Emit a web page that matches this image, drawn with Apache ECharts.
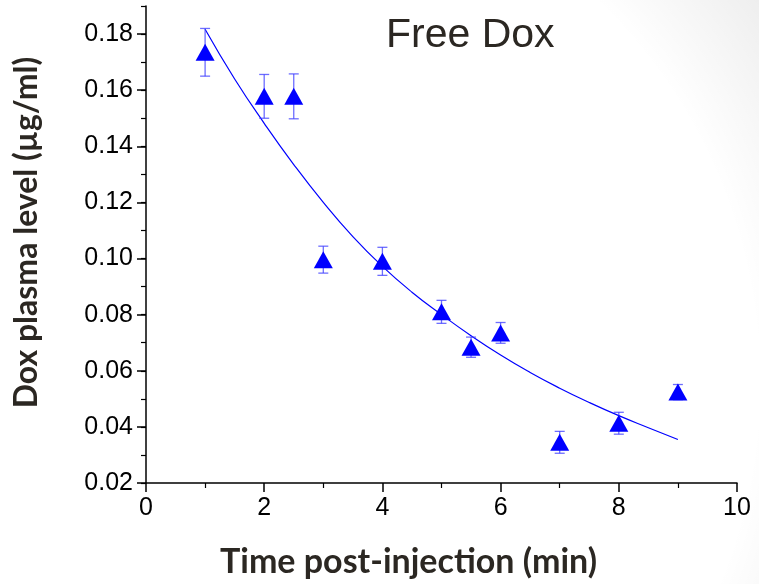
<!DOCTYPE html>
<html>
<head>
<meta charset="utf-8">
<script src="https://cdn.jsdelivr.net/npm/echarts@6/dist/echarts.min.js"></script>
<style>
  html, body { margin: 0; padding: 0; background: #fff; }
  #main { width: 759px; height: 584px; }
</style>
</head>
<body>
<div id="main"></div>
<script>
// measured points (time in min, Dox level in ug/ml, error bar half-length)
var timeMin = [1, 2, 2.5, 3, 4, 5, 5.5, 6, 7, 8, 9];
var doxLevel = [0.1735, 0.1578, 0.1578, 0.0996, 0.0990, 0.0810, 0.0684, 0.0735, 0.0345, 0.0413, 0.0524];
var doxErr = [0.0085, 0.0078, 0.0080, 0.0048, 0.0050, 0.0041, 0.0036, 0.0037, 0.0039, 0.0039, 0.0027];

// fitted decay curve
var fitX = [1, 1.5, 2, 2.5, 3, 3.5, 4, 4.5, 5, 5.5, 6, 6.5, 7, 7.5, 8, 8.5, 9];
var fitY = [0.1817, 0.1640, 0.1482, 0.1335, 0.1200, 0.1078, 0.0972, 0.0880, 0.0800, 0.0725, 0.0656, 0.0594, 0.0538, 0.0487, 0.0440, 0.0397, 0.0355];

var yMajor = [0.02, 0.04, 0.06, 0.08, 0.10, 0.12, 0.14, 0.16, 0.18];

var chartDom = document.getElementById('main');
var myChart = echarts.init(chartDom);
var option;

var pointData = timeMin.map(function (t, i) { return [t, doxLevel[i]]; });
var errData = timeMin.map(function (t, i) { return [t, doxLevel[i] - doxErr[i], doxLevel[i] + doxErr[i]]; });
var fitData = fitX.map(function (t, i) { return [t, fitY[i]]; });

var tickFont = { color: '#000', fontSize: 25, fontFamily: 'Liberation Sans, Arial, sans-serif' };
var nameFont = { color: '#2b2722', fontWeight: 'bold', fontFamily: 'Lato, sans-serif' };

option = {
    animation: false,
    backgroundColor: '#fff',
    graphic: [
        {
            type: 'rect',
            z: -10,
            silent: true,
            shape: { x: 0, y: 0, width: 759, height: 584 },
            style: {
                fill: {
                    type: 'radial', x: 229, y: 382, r: 660, global: true,
                    colorStops: [
                        { offset: 0, color: 'rgba(0,0,0,0)' },
                        { offset: 0.8, color: 'rgba(0,0,0,0)' },
                        { offset: 1, color: 'rgba(0,0,0,0.07)' }
                    ]
                }
            }
        }
    ],
    title: {
        text: 'Free Dox',
        left: 386,
        top: 15,
        padding: 0,
        textStyle: { color: '#2b2722', fontSize: 41, fontWeight: 'normal', fontFamily: 'Liberation Sans, Arial, sans-serif' }
    },
    grid: { left: 146, right: 22, top: 6, bottom: 100, containLabel: false },
    xAxis: {
        type: 'value',
        min: 0,
        max: 10,
        interval: 2,
        name: 'Time post-injection (min)',
        nameLocation: 'middle',
        nameGap: 62,
        nameTextStyle: Object.assign({ fontSize: 34, padding: [0, 66, 0, 0] }, nameFont),
        axisLine: { onZero: false, lineStyle: { color: '#000', width: 1.5 } },
        axisTick: { length: 9, lineStyle: { color: '#000', width: 1.5 } },
        minorTick: { show: true, splitNumber: 2, length: 5, lineStyle: { color: '#000', width: 1.2 } },
        axisLabel: Object.assign({ margin: 13 }, tickFont),
        splitLine: { show: false }
    },
    yAxis: [
        {
            type: 'value',
            position: 'left',
            min: 0.02,
            max: 0.19,
            interval: 0.02,
            name: 'Dox plasma level (µg/ml)',
            nameLocation: 'middle',
            nameRotate: 90,
            nameGap: 103,
            nameTextStyle: Object.assign({ fontSize: 32, padding: [0, 0, 0, 24] }, nameFont),
            axisLine: { show: true, onZero: false, lineStyle: { color: '#000', width: 1.5 } },
            axisTick: { length: 9, customValues: yMajor, lineStyle: { color: '#000', width: 1.5 } },
            axisLabel: Object.assign({
                margin: 13,
                customValues: yMajor,
                formatter: function (v) { return v.toFixed(2); }
            }, tickFont),
            splitLine: { show: false }
        },
        {
            // minor ticks only
            type: 'value',
            position: 'left',
            min: 0.02,
            max: 0.19,
            interval: 0.01,
            axisLine: { show: false },
            axisTick: { show: true, length: 5, lineStyle: { color: '#000', width: 1.2 } },
            axisLabel: { show: false },
            splitLine: { show: false }
        }
    ],
    series: [
        {
            type: 'line',
            data: fitData,
            smooth: true,
            showSymbol: false,
            lineStyle: { color: '#0000ff', width: 1.2 },
            z: 2
        },
        {
            type: 'custom',
            data: errData,
            z: 3,
            renderItem: function (params, api) {
                var x = api.value(0);
                var lo = api.coord([x, api.value(1)]);
                var hi = api.coord([x, api.value(2)]);
                var cap = 5;
                var st = { stroke: 'rgba(60,60,255,0.75)', lineWidth: 1.3 };
                return {
                    type: 'group',
                    children: [
                        { type: 'line', shape: { x1: lo[0], y1: lo[1], x2: hi[0], y2: hi[1] }, style: st },
                        { type: 'line', shape: { x1: lo[0] - cap, y1: lo[1], x2: lo[0] + cap, y2: lo[1] }, style: st },
                        { type: 'line', shape: { x1: hi[0] - cap, y1: hi[1], x2: hi[0] + cap, y2: hi[1] }, style: st }
                    ]
                };
            }
        },
        {
            type: 'scatter',
            data: pointData,
            symbol: 'triangle',
            symbolSize: [19, 17],
            itemStyle: { color: '#0000ff', opacity: 1 },
            z: 4
        }
    ]
};

option && myChart.setOption(option);
</script>
</body>
</html>
